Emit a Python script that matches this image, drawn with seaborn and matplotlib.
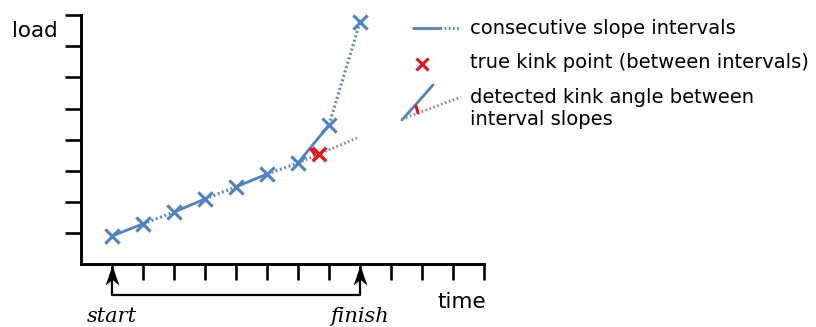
import matplotlib
matplotlib.use("Agg")
import matplotlib.pyplot as plt
from matplotlib.patches import Arc
from matplotlib.lines import Line2D
from matplotlib.path import Path
import seaborn as sns
import numpy as np

# ---- data ----
time_pts = [1, 2, 3, 4, 5, 6, 7, 8, 9]
load_pts = [0.90, 1.29, 1.67, 2.09, 2.48, 2.89, 3.25, 4.47, 7.78]
seg_styles = ["solid", "dotted", "solid", "dotted", "solid", "dotted", "solid", "dotted"]
kink_time = [7.68]
kink_load = [3.54]
ext_time = [7, 8.9]
ext_load = [3.25, 4.05]
x_ticks = list(range(1, 14))
y_ticks = list(range(1, 9))
start_t, finish_t = 1, 9
legend_labels = ["consecutive slope intervals",
                 "true kink point (between intervals)",
                 "detected kink angle between\ninterval slopes"]

BLUE = "#4f81c7"
RED = "#e8141c"
GRAY = "#8a8a8a"

sns.set_style("white")
plt.rcParams["font.family"] = ["DejaVu Sans"]
plt.rcParams["text.color"] = "black"

W, H = 816, 327
fig = plt.figure(figsize=(W / 100, H / 100), dpi=100)
ax = fig.add_axes([0, 0, 1, 1])

# pixel mapping: px = 81 + 31*x ; py(top) = 264 - 31.1*y
ux, uy, x0, y0 = 31.0, 31.1, 81, 264
ax.set_xlim(-x0 / ux, (W - x0) / ux)
ax.set_ylim((y0 - H) / uy, y0 / uy)

def P(px, py):
    return (px / W, 1 - py / H)

# axes spines/ticks
for s in ["top", "right"]:
    ax.spines[s].set_visible(False)
ax.spines["left"].set_position(("data", 0))
ax.spines["bottom"].set_position(("data", 0))
ax.spines["left"].set_bounds(0, 8)
ax.spines["bottom"].set_bounds(0, 13)
for s in ["left", "bottom"]:
    ax.spines[s].set_linewidth(2.1)
    ax.spines[s].set_color("black")
    ax.spines[s].set_capstyle("projecting")
ax.set_xticks(x_ticks)
ax.set_yticks(y_ticks)
ax.set_xticklabels([])
ax.set_yticklabels([])
ax.tick_params(axis="both", direction="out", length=11.5, width=1.9, color="black",
               bottom=True, left=True, top=False, right=False)

# interval segments
for i, ls in enumerate(seg_styles):
    ax.plot(time_pts[i:i + 2], load_pts[i:i + 2], color=BLUE,
            lw=2.0 if ls == "solid" else 2.2,
            linestyle="-" if ls == "solid" else (0, (0.6, 0.9)),
            solid_capstyle="butt", zorder=2)

# extension of previous slope
ax.plot(ext_time, ext_load, color=GRAY, lw=2.0, linestyle=(0, (0.6, 0.9)), zorder=1)

# markers
sns.scatterplot(x=time_pts, y=load_pts, marker="x", s=105, color=BLUE,
                linewidth=2.2, ax=ax, zorder=3)
sns.scatterplot(x=kink_time, y=kink_load, marker="x", s=95, color=RED,
                linewidth=2.4, ax=ax, zorder=4)

# angle arc at detected kink
a1 = np.degrees(np.arctan2((ext_load[1] - ext_load[0]) * uy, (ext_time[1] - ext_time[0]) * ux))
a2 = np.degrees(np.arctan2((load_pts[7] - load_pts[6]) * uy, (time_pts[7] - time_pts[6]) * ux))
ax.add_patch(Arc((time_pts[6], load_pts[6]), 1.2, 1.2 * ux / uy, theta1=a1, theta2=a2,
                 color=RED, lw=2.2, zorder=5))

# start / finish arrows and bracket
yb = -1.0
stealth = Path([(0, 0.5), (0.34, -0.5), (0, -0.22), (-0.34, -0.5), (0, 0.5)],
               [Path.MOVETO, Path.LINETO, Path.LINETO, Path.LINETO, Path.CLOSEPOLY])
ax.plot([start_t, start_t, finish_t, finish_t], [-0.3, yb, yb, -0.3],
        color="black", lw=1.6, zorder=1)
ax.plot([start_t, finish_t], [-0.36, -0.36], linestyle="none", marker=stealth,
        markersize=14.5, color="black", markeredgewidth=0, zorder=2)
ax.text(start_t, -1.68, "start", ha="center", va="center", fontsize=15,
        family="DejaVu Serif", style="italic")
ax.text(finish_t, -1.68, "finish", ha="center", va="center", fontsize=15,
        family="DejaVu Serif", style="italic")

ax.text(*P(12, 31), "load", transform=ax.transAxes, ha="left", va="center", fontsize=15.5)
ax.text(*P(437, 302), "time", transform=ax.transAxes, ha="left", va="center", fontsize=15.5)

# legend (manual)
T = ax.transAxes
ax.add_line(Line2D(*zip(P(413, 28), P(440, 28)), transform=T, color=BLUE, lw=2.0))
ax.add_line(Line2D(*zip(P(440, 28), P(461, 28)), transform=T, color=BLUE, lw=2.0,
                   linestyle=(0, (0.6, 0.9))))
ax.text(*P(470, 28), legend_labels[0], transform=T, ha="left", va="center", fontsize=14)

ax.add_line(Line2D([P(422, 64)[0]], [P(422, 64)[1]], transform=T, color=RED,
                   marker="x", markersize=9, markeredgewidth=2.2, linestyle="none"))
ax.text(*P(470, 62), legend_labels[1], transform=T, ha="left", va="center", fontsize=14)

ax.add_line(Line2D(*zip(P(402, 120), P(433, 85)), transform=T, color=BLUE, lw=2.0))
ax.add_line(Line2D(*zip(P(402, 119), P(461, 97)), transform=T, color=GRAY, lw=2.0,
                   linestyle=(0, (0.6, 0.9))))
ax.add_line(Line2D(*zip(P(416, 106), P(418, 113)), transform=T, color=RED, lw=2.2))
ax.text(*P(470, 109), legend_labels[2], transform=T, ha="left", va="center",
        fontsize=14, linespacing=1.2)

fig.savefig("out.png", dpi=100)
